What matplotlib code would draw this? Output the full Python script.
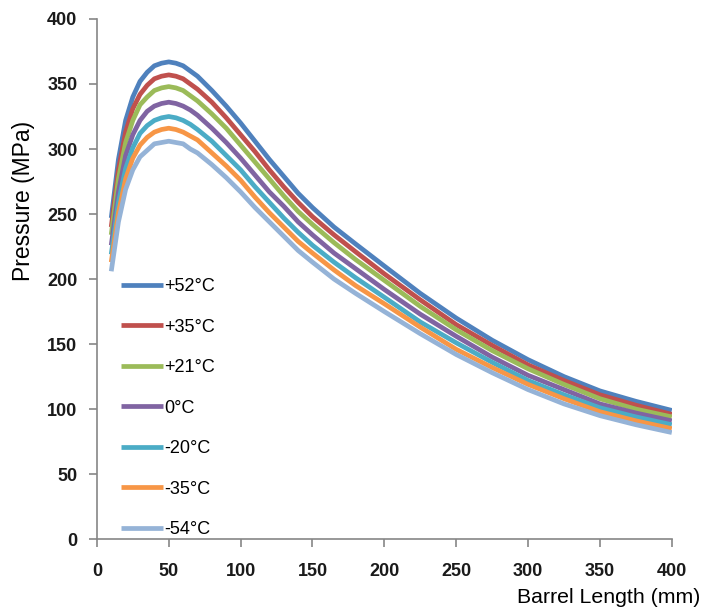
import matplotlib
matplotlib.use('Agg')
import matplotlib.pyplot as plt

# barrel length (mm)
length = [10, 15, 20, 25, 30, 35, 40, 45, 50, 55, 60, 65, 70, 80, 90, 100,
          110, 120, 130, 140, 150, 165, 180, 200, 225, 250, 275, 300, 325,
          350, 375, 400]

# pressure (MPa) for each propellant temperature
p_plus52 = [247, 292, 322, 340, 352, 359, 364, 366, 367, 366, 364, 360, 356, 345, 333, 320,
            306, 292, 279, 266, 255, 240, 227, 210, 189, 170, 153, 138, 125,
            114, 106, 99]
p_plus35 = [240, 284, 313, 331, 342, 349, 354, 356, 357, 356, 354, 350, 346, 336, 324, 311,
            298, 284, 271, 259, 248, 234, 221, 204, 184, 165, 149, 134, 122,
            111, 103, 96]
p_plus21 = [234, 277, 305, 322, 334, 340, 345, 347, 348, 347, 345, 341, 337, 327, 316, 303,
            290, 277, 264, 252, 242, 228, 215, 199, 179, 161, 145, 131, 119,
            108, 100, 94]
p_zero = [226, 267, 295, 311, 322, 329, 333, 335, 336, 335, 333, 330, 326, 316, 305, 293,
          280, 267, 256, 244, 234, 220, 208, 192, 173, 156, 140, 126, 115,
          104, 97, 91]
p_minus20 = [219, 259, 285, 301, 312, 318, 322, 324, 325, 324, 322, 319, 315, 306, 295, 284,
             271, 259, 247, 236, 226, 213, 201, 186, 167, 151, 136, 122, 111,
             101, 94, 88]
p_minus35 = [213, 251, 277, 293, 303, 309, 313, 315, 316, 315, 313, 310, 307, 297, 287, 276,
             263, 251, 240, 229, 220, 207, 195, 181, 163, 146, 132, 119, 108,
             98, 91, 85]
p_minus54 = [206, 244, 269, 284, 294, 299, 304, 305, 306, 305, 304, 300, 297, 288, 278, 267,
             255, 244, 233, 222, 213, 200, 189, 175, 158, 142, 128, 115, 104,
             95, 88, 82]

labels = ['+52°C', '+35°C', '+21°C', '0°C', '-20°C', '-35°C', '-54°C']
series = [p_plus52, p_plus35, p_plus21, p_zero, p_minus20, p_minus35, p_minus54]
colors = ['#4F81BD', '#C0504D', '#9BBB59', '#8064A2', '#4BACC6', '#F79646', '#95B3D7']

plt.rcParams['font.family'] = ['Liberation Sans', 'DejaVu Sans']

fig = plt.figure(figsize=(7.02, 6.12), dpi=100)
ax = fig.add_axes([0.138, 0.119, 0.819, 0.850])

for vals, lab, col in zip(series, labels, colors):
    ax.plot(length, vals, color=col, lw=3.4, label=lab, solid_capstyle='butt',
            solid_joinstyle='round')

ax.set_xlim(0, 400)
ax.set_ylim(0, 400)
ax.set_xticks(range(0, 401, 50))
ax.set_yticks(range(0, 401, 50))

for side in ['top', 'right']:
    ax.spines[side].set_visible(False)
for side in ['left', 'bottom']:
    ax.spines[side].set_color('#868686')
    ax.spines[side].set_linewidth(1.2)
ax.tick_params(direction='out', length=6, width=1.2, color='#868686',
               labelsize=13, labelcolor='#1a1a1a')
ax.tick_params(axis='y', pad=8)
ax.tick_params(axis='x', pad=11)
for t in ax.get_xticklabels() + ax.get_yticklabels():
    t.set_fontweight('bold')

ax.set_ylabel('Pressure (MPa)', fontsize=16.5)
ax.yaxis.set_label_coords(-0.108, 0.65)
fig.text(0.998, 0.023, 'Barrel Length (mm)', fontsize=15.3, ha='right', va='center')

leg = ax.legend(loc='lower left', bbox_to_anchor=(0.02, -0.022), frameon=False,
                fontsize=13, handlelength=2.3, handletextpad=0.1,
                labelspacing=1.3, borderaxespad=0.3)

plt.savefig('out.png', dpi=100)
